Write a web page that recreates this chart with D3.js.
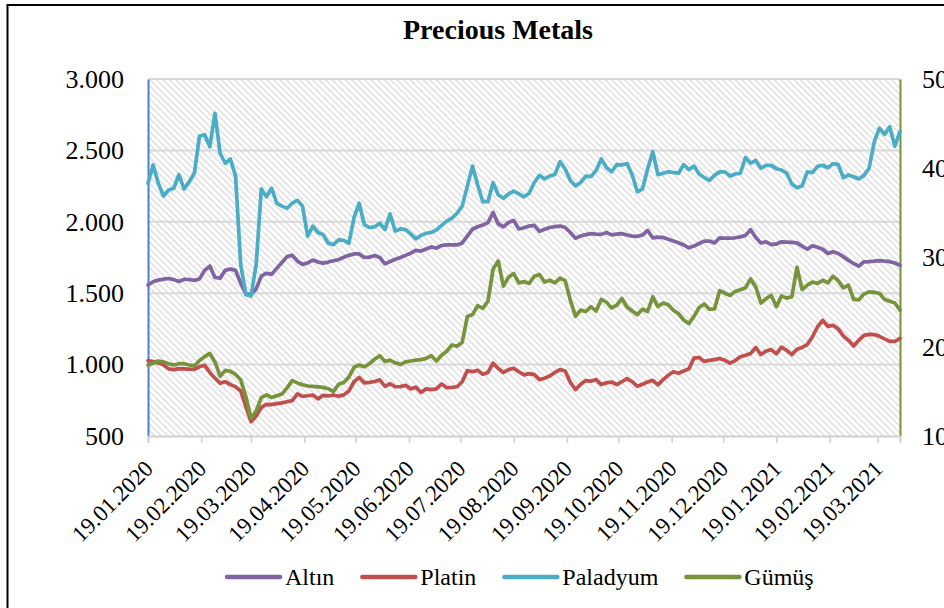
<!DOCTYPE html>
<html>
<head>
<meta charset="utf-8">
<script src="https://cdn.jsdelivr.net/npm/d3@7"></script>
<style>
  body { margin: 0; background: #fff; }
  svg { display: block; font-family: "Liberation Serif", "Times New Roman", serif; }
</style>
</head>
<body>
<div id="container"></div>
<script>
"use strict";

// x categories: a reading every 3 days, 19.01.2020 .. 01.04.2021
const startDate = "19.01.2020";
const endDate = "01.04.2021";
const stepDays = 3;

const tickDates = ["19.01.2020", "19.02.2020", "19.03.2020", "19.04.2020", "19.05.2020",
  "19.06.2020", "19.07.2020", "19.08.2020", "19.09.2020", "19.10.2020", "19.11.2020",
  "19.12.2020", "19.01.2021", "19.02.2021", "19.03.2021"];

const leftTicks = [500, 1000, 1500, 2000, 2500, 3000];
const rightTicks = [10, 20, 30, 40, 50];

const seriesNames = ["Altın", "Platin", "Paladyum", "Gümüş"];

// left axis
const altin = [
  1557, 1580, 1592, 1598, 1603, 1595, 1582, 1597, 1596, 1590,
  1600, 1660, 1690, 1610, 1605, 1660, 1670, 1660, 1570, 1495,
  1490, 1530, 1620, 1640, 1632, 1674, 1715, 1756, 1766, 1725,
  1702, 1712, 1732, 1718, 1711, 1718, 1727, 1735, 1752, 1765,
  1775, 1775, 1750, 1752, 1764, 1750, 1705, 1722, 1738, 1750,
  1765, 1780, 1800, 1795, 1810, 1824, 1816, 1834, 1838, 1838,
  1838, 1852, 1900, 1948, 1965, 1977, 1994, 2065, 1985, 1965,
  1995, 2010, 1950, 1958, 1970, 1975, 1933, 1948, 1960, 1966,
  1970, 1960, 1925, 1885, 1900, 1910, 1917, 1914, 1912, 1925,
  1908, 1914, 1917, 1908, 1900, 1898, 1907, 1940, 1887, 1893,
  1890, 1877, 1865, 1853, 1838, 1818, 1830, 1848, 1865, 1865,
  1852, 1888, 1885, 1885, 1888, 1894, 1905, 1945, 1890, 1852,
  1860, 1840, 1845, 1860, 1858, 1856, 1852, 1830, 1808, 1832,
  1822, 1808, 1778, 1790, 1778, 1756, 1730, 1708, 1690, 1720,
  1721, 1724, 1728, 1725, 1721, 1712, 1695
];

const platin = [
  1028, 1021, 1012, 998, 970, 965, 972, 970, 968, 967,
  985, 995, 945, 905, 870, 880, 860, 845, 815, 705,
  600, 640, 700, 722, 720, 727, 732, 740, 748, 795,
  778, 782, 787, 760, 785, 780, 787, 778, 788, 815,
  880, 910, 872, 876, 882, 893, 848, 866, 845, 846,
  855, 830, 842, 805, 830, 825, 830, 865, 838, 840,
  845, 880, 958, 950, 960, 932, 945, 1010, 972, 945,
  965, 974, 950, 928, 937, 930, 895, 905, 920, 945,
  965, 955, 875, 825, 862, 888, 884, 895, 860, 872,
  878, 860, 880, 902, 880, 848, 862, 878, 890, 858,
  895, 925, 950, 940, 955, 970, 1045, 1050, 1022, 1030,
  1035, 1043, 1030, 1010, 1028, 1055, 1065, 1078, 1120, 1070,
  1095, 1105, 1075, 1122, 1100, 1070, 1108, 1120, 1140, 1195,
  1265, 1310, 1268, 1275, 1250, 1200, 1170, 1130, 1170, 1205,
  1212, 1210, 1198, 1180, 1163, 1162, 1184
];

const paladyum = [
  2270, 2398, 2270, 2181, 2223, 2235, 2330, 2230, 2280, 2340,
  2600, 2610, 2526, 2760, 2480, 2410, 2440, 2320, 1700, 1490,
  1480, 1700, 2230, 2176, 2235, 2130, 2110, 2095, 2130, 2150,
  2110, 1900, 1970, 1925, 1910, 1850, 1840, 1873, 1870, 1850,
  2030, 2130, 1980, 1960, 1965, 1990, 1945, 2055, 1935, 1950,
  1945, 1915, 1880, 1905, 1920, 1925, 1943, 1975, 2005, 2025,
  2060, 2110, 2250, 2390, 2260, 2141, 2141, 2275, 2190, 2165,
  2195, 2215, 2195, 2175, 2200, 2275, 2325, 2300, 2320, 2332,
  2420, 2370, 2290, 2250, 2275, 2320, 2316, 2360, 2440, 2380,
  2350, 2400, 2398, 2408, 2330, 2210, 2230, 2370, 2491, 2330,
  2340, 2350, 2345, 2340, 2400, 2365, 2390, 2335, 2310, 2290,
  2325, 2350, 2350, 2320, 2335, 2340, 2450, 2410, 2430, 2375,
  2395, 2395, 2372, 2363, 2340, 2265, 2238, 2252, 2350, 2345,
  2388, 2396, 2377, 2408, 2400, 2310, 2328, 2315, 2300, 2325,
  2375, 2560, 2655, 2612, 2665, 2530, 2631
];

// right axis
const gumus = [
  17.96, 18.15, 18.4, 18.3, 18.1, 17.96, 18.1, 18.1, 17.96, 17.85,
  18.45, 18.9, 19.25, 18.3, 16.7, 17.35, 17.25, 16.9, 16.3, 14.4,
  12.0, 12.8, 14.3, 14.6, 14.3, 14.5, 14.7, 15.4, 16.2, 15.95,
  15.75, 15.6, 15.55, 15.5, 15.45, 15.3, 14.97, 15.8, 16.0, 16.6,
  17.7, 17.95, 17.75, 18.1, 18.6, 19.0, 18.35, 18.5, 18.2, 18.0,
  18.3, 18.4, 18.5, 18.55, 18.7, 19.0, 18.4, 19.05, 19.5, 20.2,
  20.05, 20.5, 23.4, 23.6, 24.6, 24.3, 25.1, 28.7, 29.6, 26.8,
  27.8, 28.2, 27.15, 27.3, 27.1, 27.9, 28.1, 27.25, 27.45, 27.15,
  27.7, 27.4, 25.2, 23.4, 24.1, 23.95, 24.5, 24.0, 25.3, 25.0,
  24.35, 24.65, 25.4, 24.45, 24.0, 23.6, 24.2, 23.95, 25.6, 24.5,
  24.9, 24.7, 24.1, 23.7, 23.0, 22.6, 23.4, 24.4, 24.8, 24.2,
  24.25, 26.3, 26.0, 25.75, 26.2, 26.4, 26.6, 27.6, 26.7, 24.9,
  25.4, 25.75, 24.5, 25.7, 25.45, 25.6, 28.9, 26.4, 26.9, 27.25,
  27.1, 27.45, 27.15, 27.9, 27.4, 26.6, 26.9, 25.3, 25.25, 25.9,
  26.15, 26.1, 26.0, 25.3, 25.1, 24.9, 24.1
];

const colors = ["#8064A2", "#C0504D", "#4BACC6", "#77933C"];

const width = 944;
const height = 608;
const margin = { top: 79, right: 44, bottom: 172, left: 148 };

const parseDate = d3.timeParse("%d.%m.%Y");
const dates = d3.timeDay.range(parseDate(startDate), d3.timeDay.offset(parseDate(endDate), 1), stepDays);

const svg = d3.select("#container")
  .append("svg")
  .attr("width", width)
  .attr("height", height);

// hatch fill of the plot area
const defs = svg.append("defs");
defs.append("pattern")
  .attr("id", "hatch")
  .attr("patternUnits", "userSpaceOnUse")
  .attr("width", 4.6)
  .attr("height", 4.6)
  .attr("patternTransform", "rotate(45)")
  .append("line")
  .attr("x1", 0).attr("y1", 1).attr("x2", 4.6).attr("y2", 1)
  .attr("stroke", "#dcdcdc")
  .attr("stroke-width", 1.4);

// outer frame
svg.append("rect")
  .attr("x", 7.5).attr("y", 5)
  .attr("width", 960).attr("height", 640)
  .attr("fill", "#fff")
  .attr("stroke", "#000")
  .attr("stroke-width", 2);

const x0 = margin.left;
const x1 = width - margin.right;
const y0 = height - margin.bottom;
const y1 = margin.top;

const x = d3.scaleTime()
  .domain([parseDate(startDate), parseDate(endDate)])
  .range([x0, x1]);
const yLeft = d3.scaleLinear().domain([500, 3000]).range([y0, y1]);
const yRight = d3.scaleLinear().domain([10, 50]).range([y0, y1]);

svg.append("rect")
  .attr("x", x0).attr("y", y1)
  .attr("width", x1 - x0).attr("height", y0 - y1)
  .attr("fill", "url(#hatch)");

// gridlines
svg.append("g")
  .selectAll("line")
  .data(leftTicks.slice(1))
  .enter()
  .append("line")
  .attr("x1", x0).attr("x2", x1)
  .attr("y1", (d) => yLeft(d)).attr("y2", (d) => yLeft(d))
  .attr("stroke", "#d9d9d9")
  .attr("stroke-width", 2);

const fmt = d3.formatLocale({ decimal: ",", thousands: ".", grouping: [3], currency: ["", ""] }).format(",");

// left axis
const gl = svg.append("g")
  .attr("transform", `translate(${x0},0)`)
  .call(d3.axisLeft(yLeft).tickValues(leftTicks).tickFormat(fmt).tickSize(0).tickPadding(24));
gl.select(".domain").attr("stroke", "#4F81BD").attr("stroke-width", 2);
gl.selectAll("text").attr("font-size", 26).attr("font-family", "Liberation Serif").attr("fill", "#000");

// right axis
const gr = svg.append("g")
  .attr("transform", `translate(${x1},0)`)
  .call(d3.axisRight(yRight).tickValues(rightTicks).tickSize(0).tickPadding(22));
gr.select(".domain").attr("stroke", "#77933C").attr("stroke-width", 2);
gr.selectAll("text").attr("font-size", 26).attr("font-family", "Liberation Serif").attr("fill", "#000");

// bottom axis
const gb = svg.append("g")
  .attr("transform", `translate(0,${y0})`)
  .call(d3.axisBottom(x).tickValues(tickDates.map(parseDate)).tickSize(7).tickFormat(d3.timeFormat("%d.%m.%Y")));
gb.select(".domain").attr("stroke", "#d0d0d0").attr("stroke-width", 2);
gb.selectAll(".tick line").attr("stroke", "#d0d0d0").attr("stroke-width", 1.5);
gb.selectAll("text")
  .attr("font-size", 23)
  .attr("font-family", "Liberation Serif")
  .attr("fill", "#000")
  .attr("text-anchor", "end")
  .attr("y", 0).attr("dy", 0)
  .attr("transform", "translate(6,34) rotate(-45)");

// series
const seriesData = [altin, platin, paladyum, gumus];
const lineLeft = d3.line()
  .x((d, i) => x(dates[i]))
  .y((d) => yLeft(d));
const lineRight = d3.line()
  .x((d, i) => x(dates[i]))
  .y((d) => yRight(d));

seriesData.forEach((vals, k) => {
  svg.append("path")
    .datum(vals)
    .attr("d", k === 3 ? lineRight : lineLeft)
    .attr("fill", "none")
    .attr("stroke", colors[k])
    .attr("stroke-width", 3.7)
    .attr("stroke-linejoin", "round")
    .attr("stroke-linecap", "round");
});

// title
svg.append("text")
  .attr("x", 498).attr("y", 39)
  .attr("text-anchor", "middle")
  .attr("font-size", 28)
  .attr("font-weight", "bold")
  .text("Precious Metals");

// legend
const legend = svg.append("g").attr("transform", "translate(227,577)");
let lx = 0;
seriesNames.forEach((name, k) => {
  legend.append("line")
    .attr("x1", lx).attr("x2", lx + 53)
    .attr("y1", 0).attr("y2", 0)
    .attr("stroke", colors[k])
    .attr("stroke-width", 4.5)
    .attr("stroke-linecap", "round");
  const t = legend.append("text")
    .attr("x", lx + 58).attr("y", 8)
    .attr("font-size", 24)
    .text(name);
  lx += 58 + t.node().getComputedTextLength() + 28;
});
</script>
</body>
</html>
